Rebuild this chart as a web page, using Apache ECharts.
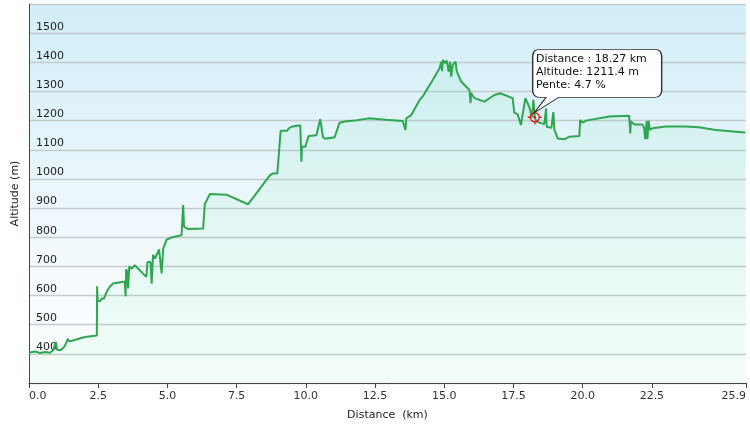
<!DOCTYPE html>
<html>
<head>
<meta charset="utf-8">
<script src="https://cdn.jsdelivr.net/npm/echarts@6/dist/echarts.min.js"></script>
<style>html,body{margin:0;padding:0;background:#fff;}#c{width:750px;height:428px;}</style>
</head>
<body>
<div id="c"></div>
<script>
// Profile data (km, m)
const distanceKm = [
  0.00,0.22,0.40,0.58,0.76,0.87,0.97,1.01,1.15,1.19,1.23,1.30,1.37,1.41,1.44,1.55,2.02,2.45,
  2.46,2.48,2.56,2.62,2.63,2.71,2.78,2.85,2.92,3.03,3.10,3.46,3.49,3.51,3.55,3.58,3.62,3.70,3.82,
  4.24,4.28,4.39,4.43,4.48,4.55,4.70,4.76,4.79,4.85,4.97,5.16,5.51,5.57,5.60,5.75,6.29,6.35,6.41,6.53,
  7.13,7.91,8.70,8.81,8.97,9.09,9.33,9.38,9.48,9.80,9.84,9.86,9.98,10.10,10.38,10.52,10.62,10.70,11.04,
  11.22,11.40,11.76,12.30,12.66,12.90,13.50,13.60,13.63,13.81,14.11,14.22,14.59,14.83,14.89,14.92,14.95,
  15.04,15.09,15.16,15.21,15.25,15.31,15.41,15.45,15.61,15.79,15.91,15.95,15.97,16.09,16.45,16.81,17.02,
  17.47,17.53,17.65,17.77,17.93,18.07,18.17,18.22,18.27,18.33,18.40,18.61,18.68,18.70,18.87,18.94,18.98,
  19.10,19.34,19.52,19.88,19.91,20.00,20.12,20.96,21.68,21.72,21.74,21.86,22.16,22.22,22.26,22.31,22.34,
  22.38,22.43,22.52,23.00,23.73,24.20,24.81,25.87
];
const altitudeM = [
  405,408,403,406,404,412,441,414,413,410,420,428,432,452,443,445,458,463,
  632,583,580,576,590,590,607,620,630,641,647,648,598,690,682,624,700,692,704,
  664,715,715,641,740,727,758,762,676,762,792,800,807,910,836,828,830,913,916,948,
  946,913,1012,1019,1019,1165,1165,1173,1179,1184,1059,1110,1110,1147,1150,1205,1143,1138,1143,
  1193,1197,1200,1208,1205,1203,1199,1168,1208,1219,1271,1283,1340,1380,1402,1370,1408,
  1397,1406,1368,1402,1351,1392,1402,1370,1334,1317,1305,1260,1295,1277,1265,1288,1294,
  1277,1227,1222,1185,1277,1247,1211,1271,1211.4,1197,1191,1188,1242,1179,1175,1229,1168,
  1139,1136,1145,1147,1202,1193,1200,1214,1217,1156,1198,1187,1187,1175,1136,1198,1136,
  1200,1168,1174,1180,1180,1177,1168,1159
];
const xTickValues = [0, 2.5, 5, 7.5, 10, 12.5, 15, 17.5, 20, 22.5, 25.9];
const cursorDistance = 18.27;
const cursorAltitude = 1211.4;
const cursorSlope = 4.7;

const FONT = 'DejaVu Sans';
const profile = distanceKm.map((d, i) => [d, altitudeM[i]]);

const bubblePath = 'path://M7 0H122Q129 0 129 7V41Q129 48 122 48H26L1.7 63.4L13.4 48H7Q0 48 0 41V7Q0 0 7 0Z';
const crossPath = 'path://M7 0V3M7 11V14M0 7H3M11 7H14M7 2.5A4.5 4.5 0 1 1 6.99 2.5ZM7 6.2A0.8 0.8 0 1 1 6.99 6.2Z';

const chart = echarts.init(document.getElementById('c'));
chart.setOption({
  animation: false,
  backgroundColor: '#ffffff',
  grid: {
    left: 29, right: 4, top: 4, bottom: 45,
    show: true, borderWidth: 0,
    backgroundColor: new echarts.graphic.LinearGradient(0, 0, 0, 1, [
      { offset: 0, color: '#d2eef9' },
      { offset: 0.55, color: '#eef8fc' },
      { offset: 1, color: '#ffffff' }
    ])
  },
  xAxis: {
    type: 'value', min: 0, max: 25.9,
    name: 'Distance  (km)', nameLocation: 'middle', nameGap: 27,
    nameTextStyle: { fontFamily: FONT, fontSize: 11, color: '#222' },
    axisLine: { show: true, lineStyle: { color: '#444', width: 1 } },
    axisTick: { show: true, length: 5, customValues: xTickValues, lineStyle: { color: '#444' } },
    axisLabel: {
      customValues: xTickValues, margin: 8,
      fontFamily: FONT, fontSize: 11, color: '#333',
      alignMinLabel: 'left', alignMaxLabel: 'right',
      formatter: v => v.toFixed(1)
    },
    splitLine: { show: false }
  },
  yAxis: {
    type: 'value', min: 300, max: 1600, interval: 100,
    name: 'Altitude (m)', nameLocation: 'middle', nameGap: -1, nameRotate: 90,
    nameTextStyle: { fontFamily: FONT, fontSize: 11, color: '#222', verticalAlign: 'bottom' },
    axisLine: { show: true, lineStyle: { color: '#444', width: 1 } },
    axisTick: { show: false },
    axisLabel: {
      inside: true, margin: 7, showMinLabel: false, showMaxLabel: false,
      fontFamily: FONT, fontSize: 11, color: '#222',
      verticalAlign: 'bottom', padding: [0, 0, 1, 0],
      formatter: v => String(v)
    },
    splitLine: { show: true, lineStyle: { color: '#c3cbcf', width: 1.3 } }
  },
  series: [{
    type: 'line',
    data: profile,
    showSymbol: false,
    lineStyle: { color: '#2fa650', width: 2 },
    areaStyle: {
      origin: 'start',
      color: new echarts.graphic.LinearGradient(0, 0, 0, 1, [
        { offset: 0, color: 'rgba(60,215,130,0.13)' },
        { offset: 1, color: 'rgba(60,230,120,0.08)' }
      ])
    },
    markPoint: {
      silent: true,
      data: [
        {
          coord: [cursorDistance, cursorAltitude],
          symbol: crossPath, symbolSize: [14, 14],
          itemStyle: { color: 'transparent', borderColor: '#e0201c', borderWidth: 1.4 },
          label: { show: false }
        },
        {
          coord: [cursorDistance, cursorAltitude],
          symbol: bubblePath, symbolSize: [129, 63.4], symbolKeepAspect: false,
          symbolOffset: [62.4, -36.3],
          itemStyle: { color: 'rgba(255,255,255,0.95)', borderColor: '#333', borderWidth: 1 },
          label: {
            show: true, position: [4, 3.5], align: 'left', verticalAlign: 'top',
            fontFamily: FONT, fontSize: 11, color: '#111', lineHeight: 13,
            formatter: 'Distance : ' + cursorDistance.toFixed(2) + ' km\nAltitude: ' +
              cursorAltitude.toFixed(1) + ' m\nPente: ' + cursorSlope.toFixed(1) + ' %'
          }
        }
      ]
    }
  }]
});
</script>
</body>
</html>
